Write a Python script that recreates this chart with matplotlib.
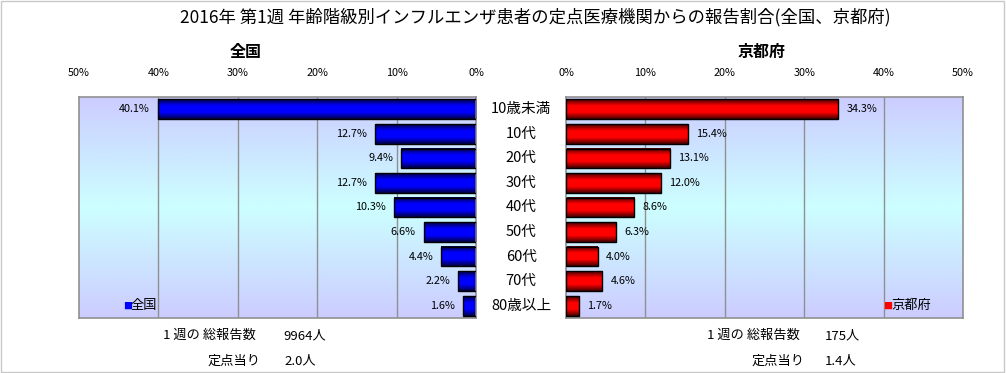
import numpy as np
import matplotlib.pyplot as plt
from matplotlib.colors import LinearSegmentedColormap

plt.rcParams['font.family'] = ['Noto Sans CJK JP', 'DejaVu Sans']

categories = ['10歳未満', '10代', '20代', '30代', '40代', '50代', '60代', '70代', '80歳以上']
zenkoku = [40.1, 12.7, 9.4, 12.7, 10.3, 6.6, 4.4, 2.2, 1.6]
kyoto = [34.3, 15.4, 13.1, 12.0, 8.6, 6.3, 4.0, 4.6, 1.7]
ticks = [0, 10, 20, 30, 40, 50]

title = '2016年 第1週 年齢階級別インフルエンザ患者の定点医療機関からの報告割合(全国、京都府)'

fig = plt.figure(figsize=(10.06, 3.73), dpi=100)
fig.patch.set_facecolor('white')
# thin gray frame around the whole chart
fig.add_artist(plt.Rectangle((0.001, 0.003), 0.997, 0.994, transform=fig.transFigure,
                             fill=False, edgecolor='#c8c8c8', lw=1))

bg_cmap = LinearSegmentedColormap.from_list('bg', ['#ccccff', '#ccffff', '#ccccff'])
blue_cmap = LinearSegmentedColormap.from_list('bl', ['#000040', '#0000ff', '#0000ff', '#000040'])
red_cmap = LinearSegmentedColormap.from_list('rd', ['#400000', '#ff0000', '#ff0000', '#400000'])

grad = np.linspace(0, 1, 256).reshape(-1, 1)
y = np.arange(len(categories))
h = 0.8
n = len(categories)


def panel(ax, vals, cmap, left_side):
    ax.imshow(grad, cmap=bg_cmap, aspect='auto', extent=[0, 50, n - 0.5, -0.5], zorder=0)
    for t in ticks[1:-1]:
        ax.axvline(t, color='#909090', lw=1, zorder=1)
    for yi, v in zip(y, vals):
        ax.imshow(grad, cmap=cmap, aspect='auto',
                  extent=[0, v, yi + h / 2, yi - h / 2], zorder=2)
        ax.add_patch(plt.Rectangle((0, yi - h / 2), v, h, fill=False,
                                   edgecolor='black', lw=1, zorder=3))
        ax.text(v + 1.0, yi, f'{v:.1f}%', ha='right' if left_side else 'left',
                va='center', fontsize=7.8, zorder=4)
    ax.set_xlim(0, 50)
    ax.set_ylim(n - 0.5, -0.5)
    if left_side:
        ax.invert_xaxis()
    ax.set_xticks(ticks)
    ax.set_xticklabels([f'{t}%' for t in ticks], fontsize=7.8)
    ax.xaxis.tick_top()
    ax.tick_params(axis='x', length=0, pad=14)
    ax.set_yticks([])
    for s in ax.spines.values():
        s.set_color('#909090')
        s.set_linewidth(1.2)


axL = fig.add_axes([0.0785, 0.1475, 0.3946, 0.5925])
axR = fig.add_axes([0.5626, 0.1475, 0.3946, 0.5925])

panel(axL, zenkoku, blue_cmap, True)
panel(axR, kyoto, red_cmap, False)

# category labels in the middle
for yi, c in zip(y, categories):
    axL.annotate(c, xy=(1.114, yi), xycoords=('axes fraction', 'data'),
                 ha='center', va='center', fontsize=10.5, annotation_clip=False)

# legends
axL.text(0.11, 0.055, '■', color='#0000ff', fontsize=6.5, transform=axL.transAxes,
         ha='left', va='center')
axL.text(0.13, 0.055, '全国', fontsize=9.5, transform=axL.transAxes, ha='left', va='center')
axR.text(0.80, 0.055, '■', color='#ff0000', fontsize=6.5, transform=axR.transAxes,
         ha='left', va='center')
axR.text(0.82, 0.055, '京都府', fontsize=9.5, transform=axR.transAxes, ha='left', va='center')

fig.text(0.532, 0.955, title, ha='center', va='center', fontsize=12.5)
fig.text(0.244, 0.86, '全国', ha='center', va='center', fontsize=11.5, fontweight='bold')
fig.text(0.757, 0.86, '京都府', ha='center', va='center', fontsize=11.5, fontweight='bold')

# summary texts
fs = 9.5
fig.text(163 / 1006, 0.100, '1 週の 総報告数', ha='left', va='center', fontsize=fs)
fig.text(283 / 1006, 0.100, '9964人', ha='left', va='center', fontsize=fs)
fig.text(207 / 1006, 0.032, '定点当り', ha='left', va='center', fontsize=fs)
fig.text(284 / 1006, 0.032, '2.0人', ha='left', va='center', fontsize=fs)
fig.text(707 / 1006, 0.100, '1 週の 総報告数', ha='left', va='center', fontsize=fs)
fig.text(825 / 1006, 0.100, '175人', ha='left', va='center', fontsize=fs)
fig.text(751 / 1006, 0.032, '定点当り', ha='left', va='center', fontsize=fs)
fig.text(825 / 1006, 0.032, '1.4人', ha='left', va='center', fontsize=fs)

fig.savefig('out.png', dpi=100, facecolor='white')
